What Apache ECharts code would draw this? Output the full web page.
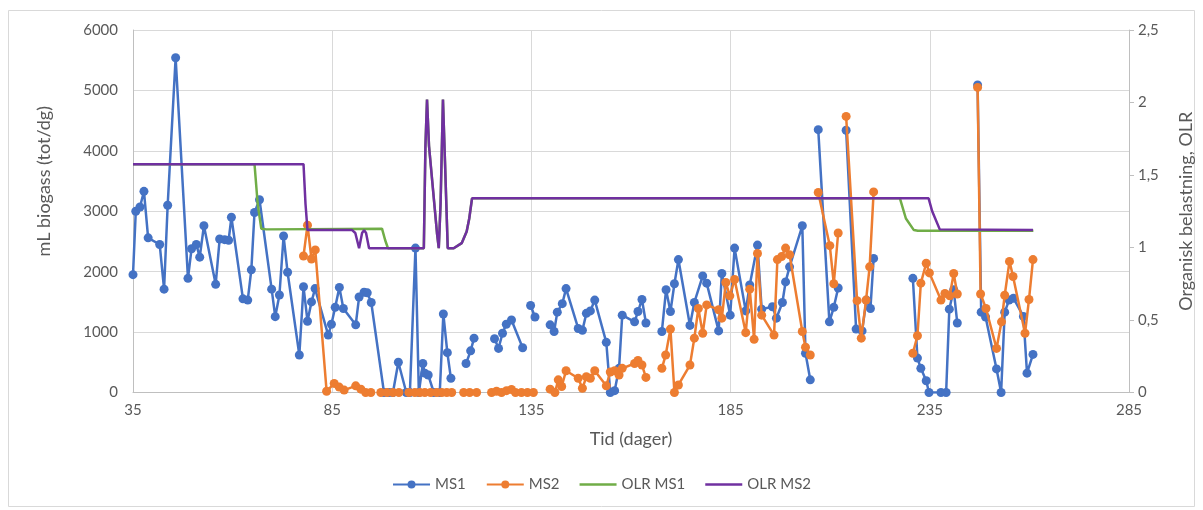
<!DOCTYPE html>
<html>
<head>
<meta charset="utf-8">
<script src="https://cdn.jsdelivr.net/npm/echarts@6/dist/echarts.min.js"></script>
<style>
html,body{margin:0;padding:0;background:#fff;}
#chart{width:1203px;height:510px;}
</style>
</head>
<body>
<div id="chart"></div>
<script>
// ---- Data (null = gap in the series) ----
const ms1Days = [35,35.7,36.75,37.75,38.8,41.7,42.8,43.7,45.7,48.8,49.7,50.9,51.75,52.8,55.75,56.75,58,59,59.7,62.6,63.8,64.7,65.5,66.75,69.8,70.7,71.75,72.8,73.8,76.75,77.8,78.8,79.8,80.7,84,84.8,85.75,86.8,87.8,90.9,91.75,93,93.8,94.8,98,99.25,100.25,101.6,103.6,104.5,105.9,106.75,107.75,108.25,109.1,110.5,112,112.9,113.9,114.8,null,118.6,119.75,120.6,null,125.75,126.75,127.75,128.7,130,132.8,null,134.8,135.9,null,139.7,140.7,141.5,142.75,143.7,146.75,147.8,148.8,149.8,150.9,153.8,154.8,155.9,157,157.8,160.9,161.75,162.75,163.75,null,167.75,168.8,169.9,170.9,171.9,174.8,175.9,178,179,182,182.8,184.9,186,188.8,189.8,191.75,192.8,195.5,196.5,198,198.8,199.8,203,203.8,205,null,207,209.8,210.9,212,null,214,216.5,218,219.1,220.1,220.9,null,230.75,231.9,232.75,234.1,234.8,237.8,239.1,239.9,241,241.9,null,247,247.9,249,251.75,252.9,253.8,254.9,256,258.5,259.4,260.9];
const ms1Values = [1950,3000,3070,3330,2560,2450,1710,3100,5540,1890,2380,2450,2240,2760,1790,2540,2530,2520,2900,1550,1530,2030,2980,3190,1710,1255,1614,2590,1990,620,1750,1180,1500,1720,950,1130,1410,1740,1390,1120,1580,1660,1650,1490,0,0,0,500,0,0,2390,0,480,320,290,0,0,1300,660,235,null,480,690,900,null,890,730,980,1130,1200,740,null,1440,1250,null,1120,1010,1330,1470,1720,1060,1030,1310,1350,1530,830,0,30,400,1280,1170,1340,1540,1150,null,1010,1700,1340,1800,2200,1110,1490,1930,1810,1020,1970,1280,2390,1350,1780,2440,1380,1420,1230,1490,1830,2080,2760,650,210,null,4350,1170,1410,1730,null,4340,1050,1020,1530,1390,2220,null,1890,570,400,195,0,0,0,1380,1700,1150,null,5090,1330,1250,390,0,1330,1530,1560,1260,320,630];

const ms2Days = [77.8,78.8,79.8,80.75,83.6,85.5,86.75,88,90.9,92.2,93.4,94.7,null,97.2,98.75,100.25,101.75,null,104.25,105.75,107,108.25,109.7,null,111.25,112.5,113.75,115,null,118,119.5,121.25,null,125,126.25,127.5,128.75,130,131,132.5,134,135.5,null,139.7,140.9,141.75,142.6,143.7,146.75,147.8,148.8,149.8,150.9,153.8,154.8,155.9,157,157.8,160.9,161.75,162.75,163.75,null,167.75,168.7,169.9,170.9,171.9,174.8,175.9,176.9,178,179,182,182.8,183.8,184.8,186,188.8,189.8,190.9,191.75,192.8,195.9,196.75,197.8,198.8,199.8,203,203.8,205,null,207,209.9,210.9,212,null,214,216.75,217.8,219,219.9,220.9,null,230.75,231.9,232.75,234.1,234.9,237.8,238.8,240,241,241.9,null,247,247.75,249.1,251.75,253,253.8,255,255.9,258.9,259.9,260.9];
const ms2Values = [2260,2770,2210,2360,20,150,90,40,110,55,0,0,null,0,0,0,0,null,0,0,0,0,0,null,0,0,0,0,null,0,0,0,null,0,20,0,30,50,0,0,0,0,null,55,0,210,100,360,235,70,260,235,360,110,340,360,290,400,480,530,455,250,null,400,620,1050,0,125,455,900,1390,980,1450,1370,1230,1820,1600,1870,990,1710,880,2300,1280,950,2200,2250,2390,2280,1010,750,620,null,3310,2430,1800,2640,null,4570,1520,900,1530,2080,3320,null,650,940,1810,2140,1980,1530,1640,1600,1970,1630,null,5050,1630,1390,730,1170,1610,2170,1920,980,1540,2200];

const olr1Days = [35,65.5,66.3,67.2,68.5,97.5,98.3,99,108,108.4,108.8,109.3,111.3,111.75,112.2,112.8,113.3,114,115.5,117.5,118.75,119.4,120.1,227.5,229,231,232,261];
const olr1Values = [1.575,1.575,1.3,1.13,1.125,1.13,1.05,0.995,0.995,1.7,2.02,1.7,1.1,0.995,1.3,2.02,1.6,0.995,0.995,1.03,1.11,1.2,1.339,1.339,1.2,1.12,1.115,1.115];

const olr2Days = [35,77.8,78.3,78.8,90,90.8,91.75,92.5,93,93.5,94.25,95,108,108.4,108.8,109.3,111.3,111.75,112.2,112.8,113.3,114,115.5,117.5,118.75,119.4,120.1,234.7,235.6,237.5,238,260.9];
const olr2Values = [1.575,1.575,1.3,1.12,1.12,1.1,0.995,1.1,1.12,1.1,0.995,0.995,0.995,1.7,2.02,1.7,1.1,0.995,1.3,2.02,1.6,0.995,0.995,1.03,1.11,1.2,1.339,1.339,1.25,1.125,1.12,1.12];

const xTicks = [35,85,135,185,235,285];

function pairs(days, vals){
  return days.map((d,i)=> (d===null||vals[i]===null) ? ['-','-'] : [d, vals[i]]);
}

const FONT = 'Lato, "Open Sans", sans-serif';
const TXT = '#595959';
const LINE_ICON = 'path://M0,0 L37,0 L37,2.5 L0,2.5 Z';
const chart = echarts.init(document.getElementById('chart'), null, {renderer:'canvas'});
chart.setOption({
  animation:false,
  backgroundColor:'#ffffff',
  textStyle:{fontFamily:FONT},
  graphic:[{type:'rect', shape:{x:8.5,y:10.5,width:1186,height:496}, style:{fill:'none', stroke:'#d9d9d9', lineWidth:1}, silent:true, z:-1}],
  grid:{left:133, right:70, top:30, bottom:117.5, containLabel:false},
  legend:{
    bottom:13, left:'center', itemWidth:37, itemHeight:10, itemGap:20,
    textStyle:{color:TXT, fontSize:15, fontFamily:FONT},
    data:['MS1','MS2',{name:'OLR MS1', icon:LINE_ICON},{name:'OLR MS2', icon:LINE_ICON}]
  },
  xAxis:{
    type:'value', min:xTicks[0], max:xTicks[xTicks.length-1], interval:50,
    name:'Tid (dager)', nameLocation:'middle', nameGap:38,
    nameTextStyle:{color:TXT, fontSize:18, fontFamily:FONT},
    axisLine:{show:true, onZero:false, lineStyle:{color:'#bfbfbf', width:1}},
    axisTick:{show:false},
    axisLabel:{color:TXT, fontSize:15, margin:10, fontFamily:FONT},
    splitLine:{show:true, lineStyle:{color:'#d9d9d9', width:1}}
  },
  yAxis:[{
    type:'value', min:0, max:6000, interval:1000,
    name:'mL biogass (tot/dg)', nameLocation:'middle', nameGap:80, nameRotate:90,
    nameTextStyle:{color:TXT, fontSize:18, fontFamily:FONT, padding:[0,0,0,60]},
    axisLine:{show:true, lineStyle:{color:'#bfbfbf', width:1}},
    axisTick:{show:false},
    axisLabel:{color:TXT, fontSize:15, margin:15, fontFamily:FONT, formatter:v=>String(v)},
    splitLine:{show:true, lineStyle:{color:'#d9d9d9', width:1}}
  },{
    type:'value', min:0, max:2.5, interval:0.5, position:'right',
    name:'Organisk belastning, OLR', nameLocation:'middle', nameGap:48, nameRotate:90,
    nameTextStyle:{color:TXT, fontSize:18, fontFamily:FONT},
    axisLine:{show:true, lineStyle:{color:'#bfbfbf', width:1}},
    axisTick:{show:true, inside:false, length:5, lineStyle:{color:'#bfbfbf'}},
    axisLabel:{color:TXT, fontSize:15, margin:9, fontFamily:FONT,
      formatter:v=>String(v).replace('.',',')},
    splitLine:{show:false}
  }],
  series:[
    {name:'MS1', type:'line', data:pairs(ms1Days, ms1Values), yAxisIndex:0,
     symbol:'circle', symbolSize:9, showSymbol:true, connectNulls:false,
     itemStyle:{color:'#4472C4'}, lineStyle:{color:'#4472C4', width:2.5}, z:3},
    {name:'MS2', type:'line', data:pairs(ms2Days, ms2Values), yAxisIndex:0,
     symbol:'circle', symbolSize:9, showSymbol:true, connectNulls:false,
     itemStyle:{color:'#ED7D31'}, lineStyle:{color:'#ED7D31', width:2.5}, z:4},
    {name:'OLR MS1', type:'line', data:pairs(olr1Days, olr1Values), yAxisIndex:1,
     symbol:'none', itemStyle:{color:'#70AD47'}, lineStyle:{color:'#70AD47', width:2.5}, z:5},
    {name:'OLR MS2', type:'line', data:pairs(olr2Days, olr2Values), yAxisIndex:1,
     symbol:'none', itemStyle:{color:'#7030A0'}, lineStyle:{color:'#7030A0', width:2.5}, z:6}
  ]
});
</script>
</body>
</html>
